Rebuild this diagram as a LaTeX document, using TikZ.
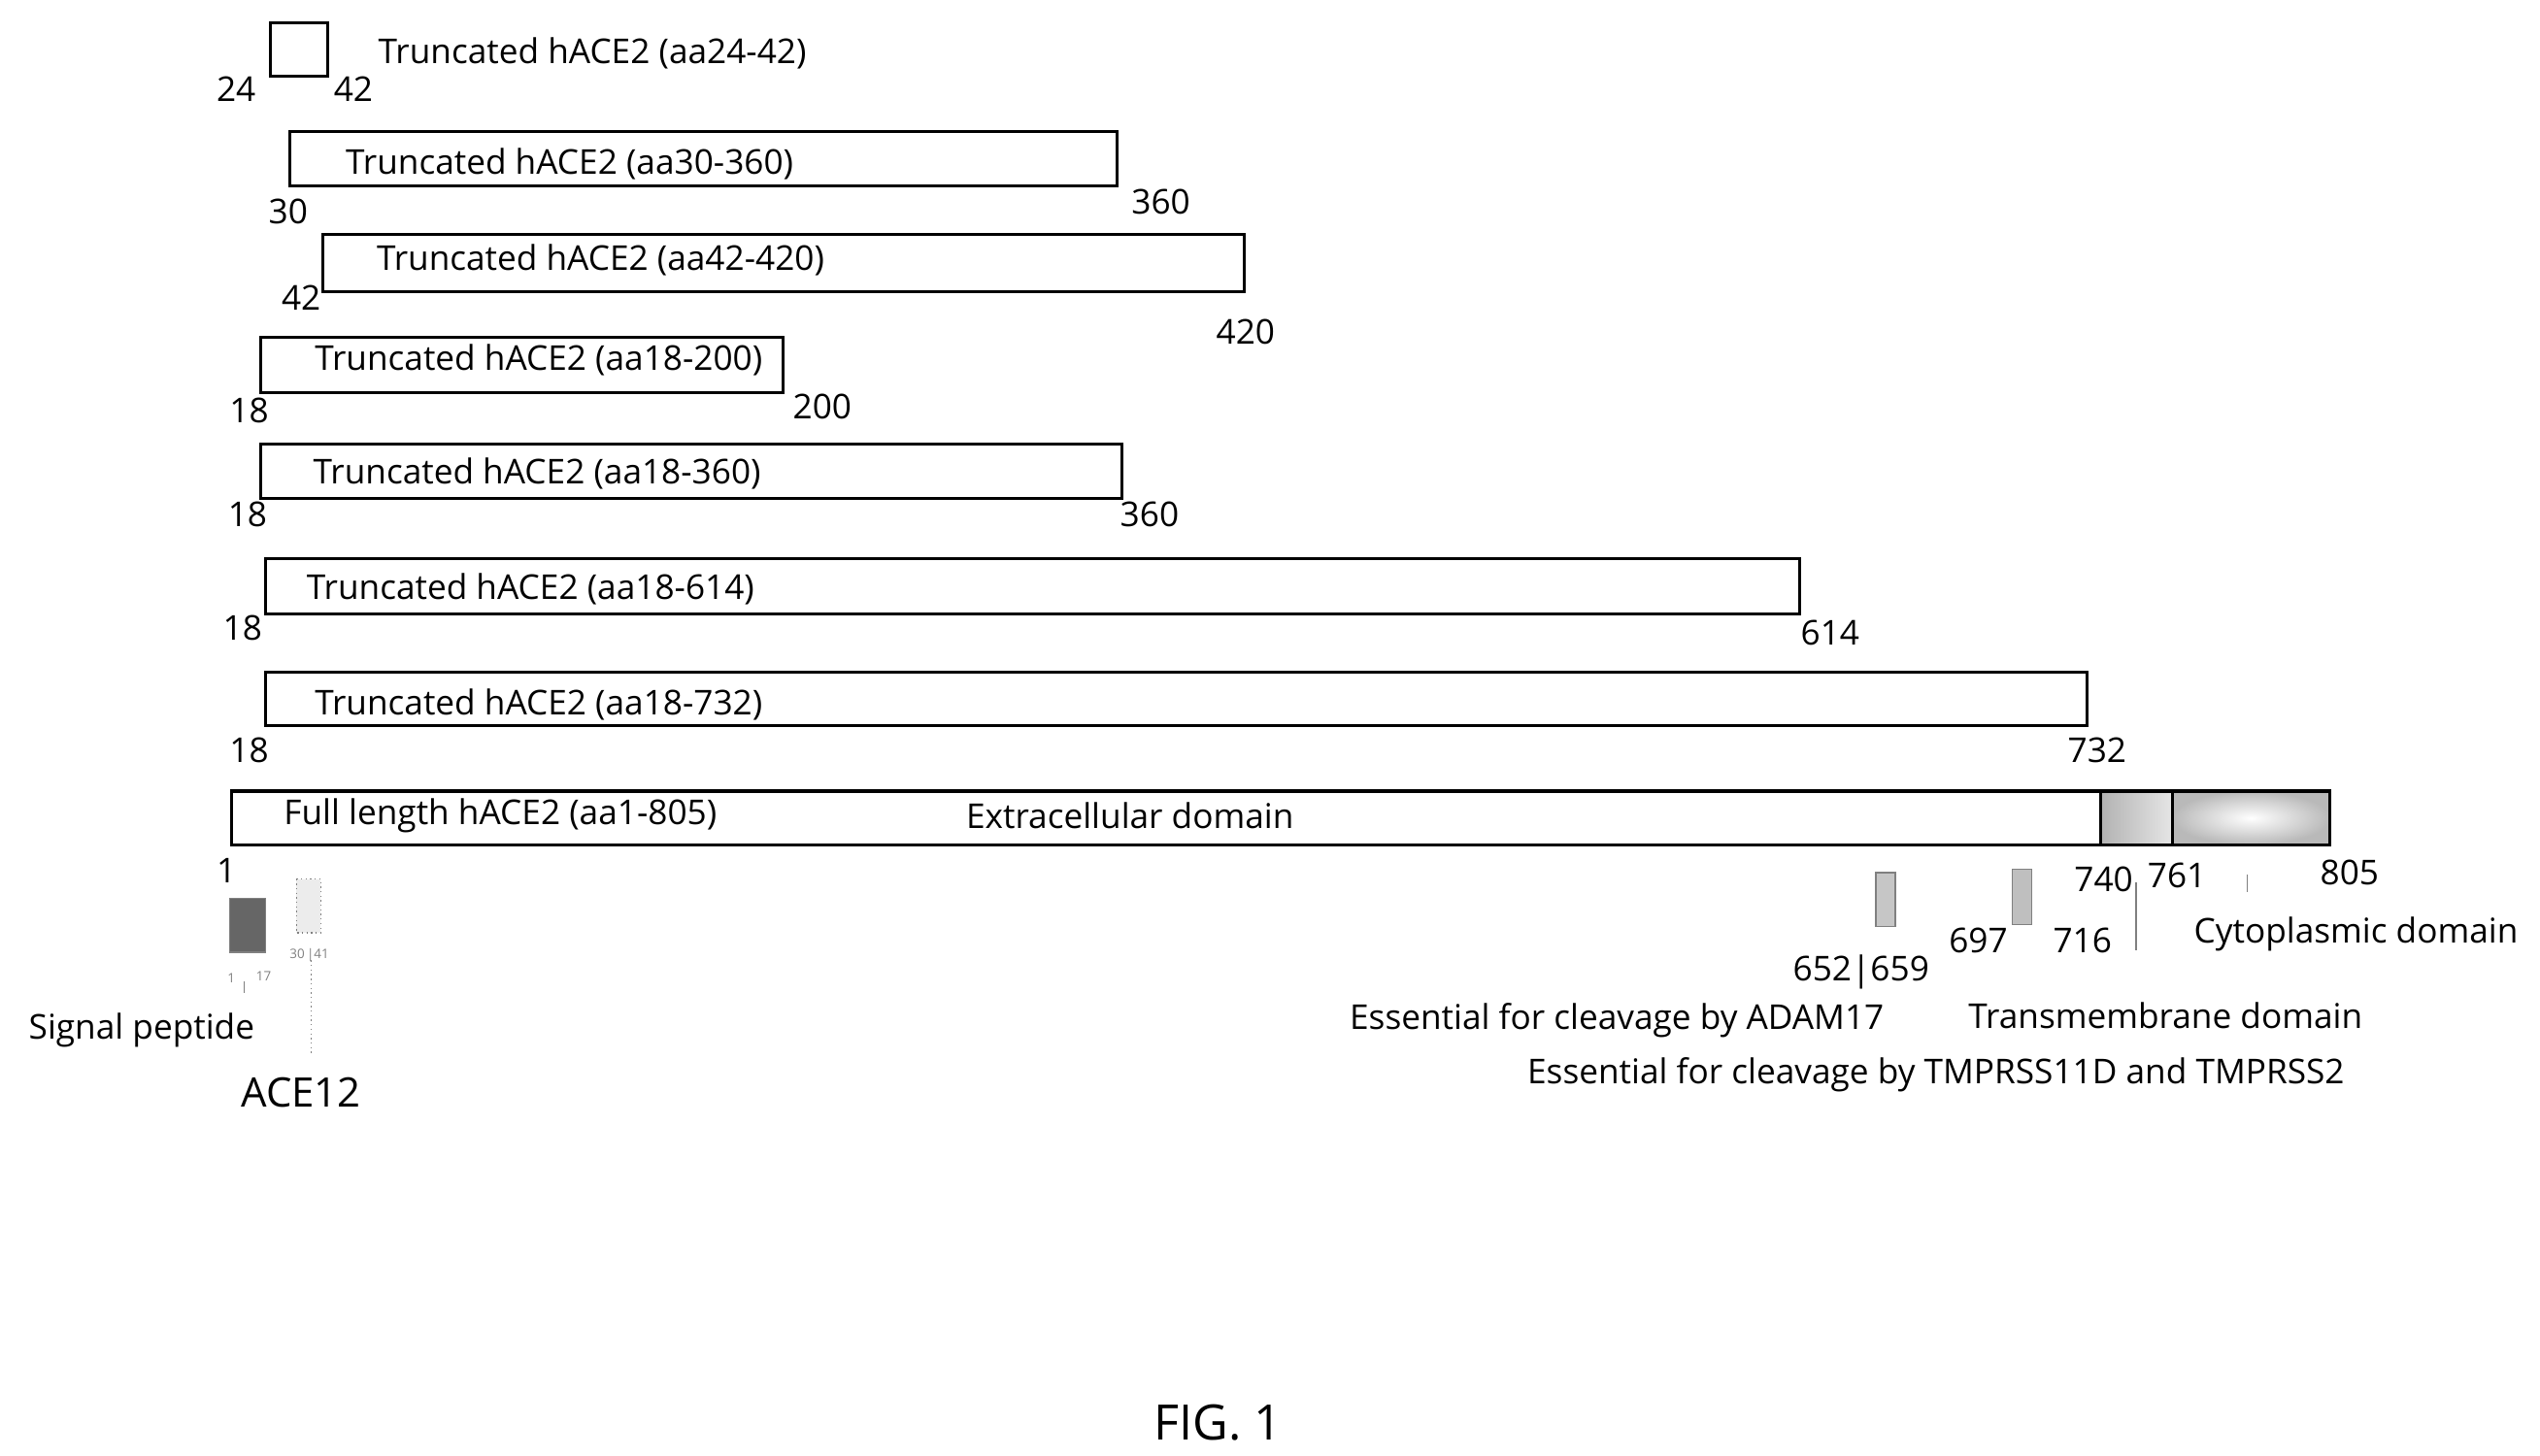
\documentclass[tikz,border=0pt]{standalone}
\usepackage{fontspec}
\setmainfont{Open Sans}
\begin{document}
\begin{tikzpicture}[x=0.5pt,y=-0.5pt,
  bx/.style={draw=black,line width=0.9pt,fill=white},
  lb/.style={font=\fontsize{10.5}{12}\selectfont,inner sep=0pt},
  tl/.style={lb,anchor=west},
  tiny/.style={font=\fontsize{4}{5}\selectfont,inner sep=0pt,text=gray}]
\useasboundingbox (0,0) rectangle (1560,894);
% truncated constructs
\draw[bx] (166,14) rectangle (201,47) coordinate (b1);
\node[tl] (t1) at (232,33) {Truncated hACE2 (aa24-42)};
\node[lb] (n1a) at (145,55) {24}; \node[lb] (n1b) at (217,55) {42};
\draw[bx] (178,81) rectangle (686,114);
\node[tl] (t2) at (212,101) {Truncated hACE2 (aa30-360)};
\node[lb] (n2a) at (177,130) {30}; \node[lb] (n2b) at (713,124) {360};
\draw[bx] (198,144) rectangle (764,179);
\node[tl] (t3) at (231,160) {Truncated hACE2 (aa42-420)};
\node[lb] (n3a) at (185,183) {42}; \node[lb] (n3b) at (765,204) {420};
\draw[bx] (160,207) rectangle (481,241);
\node[tl] (t4) at (193,221) {Truncated hACE2 (aa18-200)};
\node[lb] (n4a) at (153,252) {18}; \node[lb] (n4b) at (505,250) {200};
\draw[bx] (160,273) rectangle (689,306);
\node[tl] (t5) at (192,291) {Truncated hACE2 (aa18-360)};
\node[lb] (n5a) at (152,316) {18}; \node[lb] (n5b) at (706,316) {360};
\draw[bx] (163,343) rectangle (1105,377);
\node[tl] (t6) at (188,362) {Truncated hACE2 (aa18-614)};
\node[lb] (n6a) at (149,386) {18}; \node[lb] (n6b) at (1124,389) {614};
\draw[bx] (163,413) rectangle (1282,446);
\node[tl] (t7) at (193,433) {Truncated hACE2 (aa18-732)};
\node[lb] (n7a) at (153,461) {18}; \node[lb] (n7b) at (1288,461) {732};
% full length
\draw[bx] (142,486) rectangle (1290,519);
\shade[left color=gray!60,right color=gray!20] (1290,486) rectangle (1334,519);
\draw[line width=0.9pt] (1290,486) rectangle (1334,519);
\shade[inner color=white,outer color=gray!55] (1334,486) rectangle (1431,519);
\draw[line width=0.9pt] (1334,486) rectangle (1431,519);
\node[tl] (t8) at (174,501) {Full length hACE2 (aa1-805)};
\node[lb] (ext) at (694,501) {Extracellular domain};
\node[lb] (n8a) at (139,535) {1};
\node[lb] (n740) at (1292,540) {740};
\node[lb] (n761) at (1337,538) {761};
\node[lb] (n805) at (1443,536) {805};
% small domains left
\draw[fill=gray!80!black,draw=gray] (141,552) rectangle (163,585);
\draw[fill=gray!15,draw=gray,densely dotted] (182,540) rectangle (197,573);
\node[tiny] (s1) at (142,601) {1};
\node[tiny] (s17) at (162,600) {17};
\draw[gray] (150,603) -- (150,610);
\node[tiny] (s30) at (190,587) {30\,|41};
\coordinate (la) at (191,590); \coordinate (lb2) at (191,647);
\draw[gray,densely dotted] (la) -- (lb2);
\node[lb] (sig) at (87,633) {Signal peptide};
\node[lb,font=\fontsize{12.5}{14}\selectfont] (ace) at (185,671) {ACE12};
% right side domains
\draw[fill=gray!45,draw=gray] (1152,536) rectangle (1164,569);
\draw[fill=gray!50,draw=gray] (1236,534) rectangle (1248,568);
\node[lb] (n652) at (1143,597) {652|659};
\node[lb] (n697) at (1215,578) {697};
\node[lb] (n716) at (1279,578) {716};
\coordinate (m1) at (1312,542); \coordinate (m2) at (1312,584);
\draw[gray] (m1) -- (m2);
\coordinate (c1) at (1380,537); \coordinate (c2) at (1380,548);
\draw[gray] (c1) -- (c2);
\node[lb] (cyt) at (1447,574) {Cytoplasmic domain};
\node[lb] (adam) at (993,627) {Essential for cleavage by ADAM17};
\node[lb] (tm) at (1330,624) {Transmembrane domain};
\node[lb] (tmp) at (1189,660) {Essential for cleavage by TMPRSS11D and TMPRSS2};
\node[lb,font=\fontsize{15}{17}\selectfont] (fig) at (748,874) {FIG. 1};
\end{tikzpicture}
\end{document}
